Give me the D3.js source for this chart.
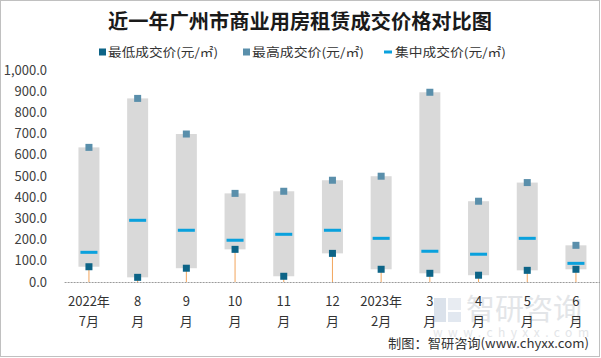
<!DOCTYPE html>
<html><head><meta charset="utf-8">
<script src="https://cdn.jsdelivr.net/npm/d3@7/dist/d3.min.js"></script>
<style>
html,body{margin:0;padding:0;background:#fff;}
svg{display:block;}
text{font-family:"Noto Sans CJK SC","Liberation Sans",sans-serif;}
</style></head>
<body>
<script>
const catLine1 = ["2022年","8","9","10","11","12","2023年","3","4","5","6"];
const catLine2 = ["7月","月","月","月","月","月","2月","月","月","月","月"];
const minVals = [72, 22, 65, 154, 27, 135, 60, 41, 32, 55, 60];
const maxVals = [635, 866, 698, 418, 428, 480, 499, 895, 381, 469, 173];
const midVals = [140, 291, 244, 197, 225, 244, 206, 145, 131, 206, 88];
const yTicks = [0,100,200,300,400,500,600,700,800,900,1000];
const seriesNames = ["最低成交价(元/㎡)","最高成交价(元/㎡)","集中成交价(元/㎡)"];
const title = "近一年广州市商业用房租赁成交价格对比图";
const source = "制图：智研咨询(www.chyxx.com)";

const W = 601, H = 358;
const colMin = "#0d6487", colMax = "#5a8fab", colMid = "#0aa1dd", colBar = "#d9d9d9", colStem = "#f2a55c";

const svg = d3.select("body").append("svg").attr("width", W).attr("height", H);
svg.append("rect").attr("x",0.5).attr("y",0.5).attr("width",599).attr("height",356)
  .attr("fill","#fff").attr("stroke","#c0c0c0");

// watermark
const wm = svg.append("g").attr("opacity",0.5);
wm.append("rect").attr("x",434).attr("y",298).attr("width",12).attr("height",24).attr("fill","#b9c7d8");
wm.append("rect").attr("x",448).attr("y",298).attr("width",13).attr("height",12).attr("fill","#d2dbe6");
wm.append("rect").attr("x",448).attr("y",312).attr("width",13).attr("height",10).attr("fill","#c6d3e2");
wm.append("text").attr("x",466).attr("y",320).attr("font-size",29).attr("fill","#c8cdd3").text("智研咨询");
wm.append("text").attr("x",433).attr("y",337).attr("font-size",12).attr("fill","#c8cdd3")
  .attr("textLength",156).attr("lengthAdjust","spacing").text("www.chyxx.com");

const idx = d3.range(catLine1.length);
const x = d3.scaleBand().domain(idx).range([64.6, 600.3]).padding(0);
const y = d3.scaleLinear().domain([0,1000]).range([282,70]);
const cx = i => x(i) + x.bandwidth()/2;

// title
svg.append("text").attr("x",300).attr("y",29).attr("text-anchor","middle")
  .attr("font-size",20).attr("font-weight","bold").attr("fill","#1a1a1a")
  .attr("textLength",384).attr("lengthAdjust","spacingAndGlyphs").text(title);

// legend
const lg = svg.append("g").attr("font-size",12).attr("fill","#333");
lg.append("rect").attr("x",99).attr("y",48.5).attr("width",7).attr("height",7).attr("fill",colMin);
lg.append("text").attr("x",108).attr("y",56.5).attr("fill","#333").attr("textLength",110).attr("lengthAdjust","spacingAndGlyphs").text(seriesNames[0]);
lg.append("rect").attr("x",243).attr("y",48.5).attr("width",7).attr("height",7).attr("fill",colMax);
lg.append("text").attr("x",252).attr("y",56.5).attr("fill","#333").attr("textLength",112).attr("lengthAdjust","spacingAndGlyphs").text(seriesNames[1]);
lg.append("rect").attr("x",384).attr("y",50.5).attr("width",8).attr("height",3).attr("fill",colMid);
lg.append("text").attr("x",395).attr("y",56.5).attr("fill","#333").attr("textLength",111).attr("lengthAdjust","spacingAndGlyphs").text(seriesNames[2]);

// y axis
const yAxis = svg.append("g").attr("transform","translate(47,0)")
  .call(d3.axisLeft(y).tickValues(yTicks).tickSize(0).tickPadding(0).tickFormat(d3.format(",.1f")));
yAxis.select(".domain").remove();
yAxis.selectAll("text").attr("font-size",13).attr("fill","#404040").attr("font-family","'Liberation Sans',sans-serif");

// bars
svg.append("g").selectAll("rect").data(idx).join("rect")
  .attr("x", i => cx(i) - 10.5).attr("width", 21)
  .attr("y", i => y(maxVals[i])).attr("height", i => y(minVals[i]) - y(maxVals[i]))
  .attr("fill", colBar);

// stems
svg.append("g").selectAll("line").data(idx).join("line")
  .attr("x1", i => cx(i)).attr("x2", i => cx(i))
  .attr("y1", y(0)).attr("y2", i => y(minVals[i]))
  .attr("stroke", colStem).attr("stroke-width",1);

// x axis
const xAxis = svg.append("g").attr("transform",`translate(0,${y(0)})`)
  .call(d3.axisBottom(x).tickSize(0).tickFormat(""));
xAxis.select(".domain").attr("stroke","#9a9a9a").attr("stroke-dasharray","2,1").attr("d","M64.6,0.5H600");
const xl = svg.append("g").attr("font-size",13).attr("fill","#333").attr("text-anchor","middle");
xl.selectAll("text.l1").data(idx).join("text").attr("class","l1")
  .attr("x", i => cx(i)).attr("y", 306).text(i => catLine1[i]);
xl.selectAll("text.l2").data(idx).join("text").attr("class","l2")
  .attr("x", i => cx(i)).attr("y", 326).text(i => catLine2[i]);

// median lines
svg.append("g").selectAll("rect").data(idx).join("rect")
  .attr("x", i => cx(i) - 8.5).attr("width", 17)
  .attr("y", i => y(midVals[i]) - 1.5).attr("height", 3)
  .attr("fill", colMid);

// max markers
svg.append("g").selectAll("rect").data(idx).join("rect")
  .attr("x", i => cx(i) - 3.5).attr("width", 7)
  .attr("y", i => y(maxVals[i]) - 3.5).attr("height", 7)
  .attr("fill", colMax);

// min markers
svg.append("g").selectAll("rect").data(idx).join("rect")
  .attr("x", i => cx(i) - 3.5).attr("width", 7)
  .attr("y", i => y(minVals[i]) - 3.5).attr("height", 7)
  .attr("fill", colMin);

// source
svg.append("text").attr("x",589).attr("y",348).attr("text-anchor","end")
  .attr("font-size",13).attr("fill","#333").attr("textLength",201).attr("lengthAdjust","spacingAndGlyphs").text(source);
</script>
</body></html>
